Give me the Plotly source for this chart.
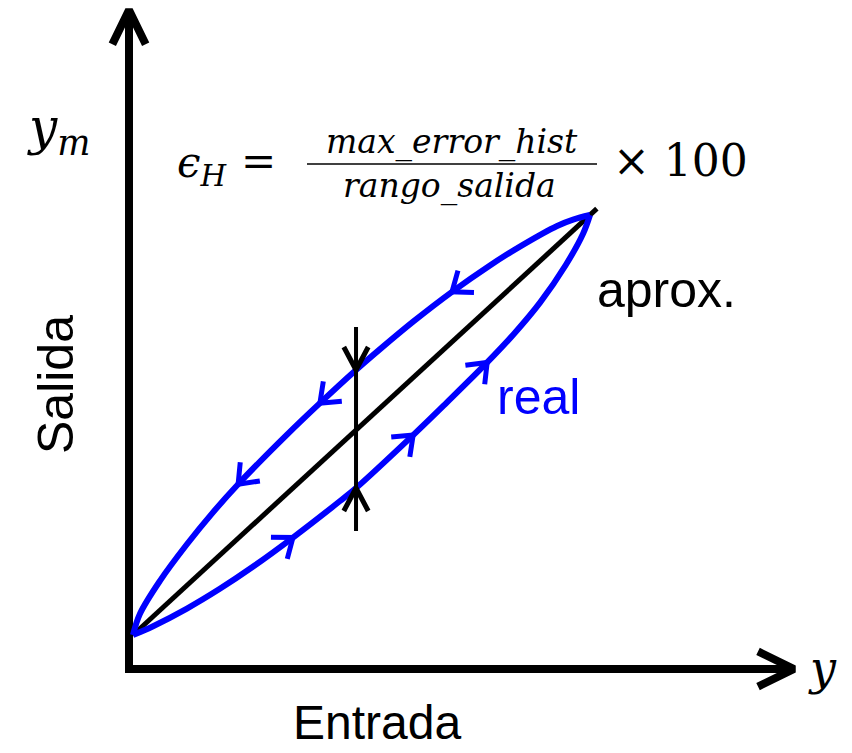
import numpy as np
import plotly.graph_objects as go

W, H = 852, 753

# Hysteresis loop, input and output in % of range
entrada_subida = [0, 4.4, 11.8, 19.0, 26.3, 35.0, 45.3, 48.8, 61.3, 68.7, 77.5, 83.2, 89.1, 94.7, 98.5, 100]
salida_subida = [0, 2.1, 6.3, 11.0, 16.3, 23.2, 31.9, 35.0, 47.6, 55.4, 64.9, 71.5, 79.2, 88.1, 95.6, 100]
entrada_bajada = [100, 96.3, 92.8, 85.3, 78.1, 69.8, 61.3, 54.0, 48.8, 40.9, 33.7, 23.0, 17.5, 11.8, 5.9, 1.5, 0]
salida_bajada = [100, 98.9, 97.4, 92.9, 88.0, 81.7, 74.6, 68.0, 63.1, 55.2, 47.7, 35.9, 29.2, 21.6, 12.9, 5.0, 0]

# Linear approximation
entrada_aprox = [0, 101.5]
salida_aprox = [0, 101.5]

# Points along each branch that carry a direction arrow
flechas_subida = [5, 8, 10]
flechas_bajada = [5, 9, 11]

# Input where the maximum hysteresis error is marked
idx_error_subida = 7
idx_error_bajada = 8

# ---- page <-> data mapping (0..100 % spans the loop) ----
X0, X1 = 133, 590   # pixel columns of 0 % and 100 % input
Y0, Y1 = 635, 215   # pixel rows of 0 % and 100 % output
sx = (X1 - X0) / 100.0
sy = (Y0 - Y1) / 100.0
x_range = [-X0 / sx, (W - X0) / sx]
y_range = [(Y0 - H) / sy, Y0 / sy]


def to_px(x, y):
    return X0 + x * sx, Y0 - y * sy


def to_data(px, py):
    return (px - X0) / sx, (Y0 - py) / sy


def chevron(tip, direction, length, half_angle):
    """Open arrowhead (two arms) at tip (data units); direction in pixel space."""
    tx, ty = to_px(*tip)
    d = np.array(direction, dtype=float)
    d /= np.linalg.norm(d)
    back = -d
    pts = []
    for s in (1, -1):
        a = np.radians(half_angle) * s
        rot = np.array([[np.cos(a), -np.sin(a)], [np.sin(a), np.cos(a)]])
        v = rot @ back * length
        pts.append(to_data(tx + v[0], ty + v[1]))
    seq = (pts[0], (tip[0], tip[1]), pts[1])
    return [p[0] for p in seq], [p[1] for p in seq]


def branch_arrows(xs, ys, idxs):
    ax, ay = [], []
    for i in idxs:
        p0 = to_px(xs[i - 1], ys[i - 1])
        p1 = to_px(xs[i + 1], ys[i + 1])
        cx, cy = chevron((xs[i], ys[i]), (p1[0] - p0[0], p1[1] - p0[1]), 22, 38)
        ax += cx + [None]
        ay += cy + [None]
    return ax, ay


BLUE = "#0000ff"
fig = go.Figure()

# axes with arrowheads
ax_x, ax_y = to_data(129, 669)
ax_top = to_data(129, 10)[1]
ax_right = to_data(794, 669)[0]
fig.add_trace(go.Scatter(x=[ax_x, ax_x], y=[to_data(0, 673)[1], ax_top], mode="lines",
                         line=dict(color="black", width=8), hoverinfo="skip"))
fig.add_trace(go.Scatter(x=[to_data(125, 0)[0], ax_right], y=[ax_y, ax_y], mode="lines",
                         line=dict(color="black", width=8), hoverinfo="skip"))
cx, cy = chevron((ax_x, ax_top), (0, -1), 38, 26)
fig.add_trace(go.Scatter(x=cx, y=cy, mode="lines", line=dict(color="black", width=8), hoverinfo="skip"))
cx, cy = chevron((ax_right, ax_y), (1, 0), 40, 26)
fig.add_trace(go.Scatter(x=cx, y=cy, mode="lines", line=dict(color="black", width=8), hoverinfo="skip"))

# linear approximation
fig.add_trace(go.Scatter(x=entrada_aprox, y=salida_aprox, mode="lines",
                         line=dict(color="black", width=5), hoverinfo="skip"))

# real loop
for xs, ys, idxs in ((entrada_subida, salida_subida, flechas_subida),
                     (entrada_bajada, salida_bajada, flechas_bajada)):
    fig.add_trace(go.Scatter(x=xs, y=ys, mode="lines",
                             line=dict(color=BLUE, width=6, shape="spline", smoothing=1.0),
                             hoverinfo="skip"))
    axs, ays = branch_arrows(xs, ys, idxs)
    fig.add_trace(go.Scatter(x=axs, y=ays, mode="lines", line=dict(color=BLUE, width=5),
                             hoverinfo="skip"))

# maximum hysteresis error bar
xe = entrada_subida[idx_error_subida]
y_lo = salida_subida[idx_error_subida]
y_hi = salida_bajada[idx_error_bajada]
ext = 43 / sy
fig.add_trace(go.Scatter(x=[xe, xe], y=[y_lo - ext, y_hi + ext], mode="lines",
                         line=dict(color="black", width=4), hoverinfo="skip"))
ex, ey = chevron((xe, y_hi), (0, 1), 26, 28)
fx, fy = chevron((xe, y_lo), (0, -1), 26, 28)
fig.add_trace(go.Scatter(x=ex + [None] + fx, y=ey + [None] + fy, mode="lines",
                         line=dict(color="black", width=5), hoverinfo="skip"))

# fraction bar of the formula
fig.add_shape(type="line", xref="paper", yref="paper",
              x0=307 / W, x1=597 / W, y0=1 - 164 / H, y1=1 - 164 / H,
              line=dict(color="black", width=1.5))

SANS = "Liberation Sans, Arial, sans-serif"
SERIF = "DejaVu Serif, serif"


def label(text, px, py, size, family, color="black", angle=0, yanchor="middle"):
    fig.add_annotation(text=text, x=px / W, y=1 - py / H, xref="paper", yref="paper",
                       showarrow=False, xanchor="center", yanchor=yanchor, textangle=angle,
                       borderpad=0, font=dict(size=size, family=family, color=color))


label("Entrada", 377, 722, 48, SANS)
label("Salida", 56, 385, 50, SANS, angle=-90)
label("aprox.", 666, 290, 50, SANS)
label("real", 538, 397, 50, SANS, color=BLUE)
label("<i>y</i><sub><i>m</i></sub>", 58, 130, 50, SERIF)
label("<i>y</i>", 822, 668, 46, SERIF)
label("<i>ϵ</i><sub><i>H</i></sub>", 202, 165, 42, SERIF)
label("=", 258, 161, 42, SERIF)
label("<i>max_error_hist</i>", 452, 163, 33, SERIF, yanchor="bottom")
label("<i>rango_salida</i>", 449, 165, 33, SERIF, yanchor="top")
label("× 100", 680, 160, 44, SERIF)

fig.update_layout(
    width=W, height=H, margin=dict(l=0, r=0, t=0, b=0),
    paper_bgcolor="white", plot_bgcolor="white", showlegend=False,
    xaxis=dict(range=x_range, visible=False, fixedrange=True),
    yaxis=dict(range=y_range, visible=False, fixedrange=True),
)

fig.write_html("out.html")
